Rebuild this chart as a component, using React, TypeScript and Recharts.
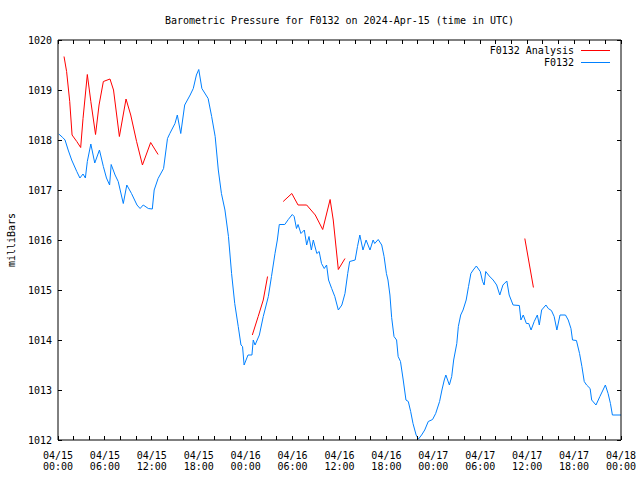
import React from 'react';
import { LineChart, Line, XAxis, YAxis, Legend } from 'recharts';

// hours since 2024-04-15 00:00 UTC
const stationHours = [
  0.1, 0.6, 0.9, 1.3, 1.75, 2.4, 2.8, 3.2, 3.5, 3.75, 4.2, 4.7, 5.3, 5.8, 6.2, 6.6, 6.8, 7.3, 7.7, 8.35,
  8.8, 9.4, 10.1, 10.5, 10.9, 11.55, 12.06, 12.3, 12.8, 13.5, 14.0, 14.3, 14.96, 15.26, 15.7, 16.2, 16.9, 17.3, 17.7, 18.0,
  18.4, 19.2, 19.65, 20.1, 20.5, 20.9, 21.35, 21.8, 22.2, 22.6, 23.05, 23.4, 23.6, 23.8, 24.3, 24.8, 24.97, 25.2, 25.75, 26.25,
  26.9, 27.3, 27.75, 28.05, 28.3, 29.0, 29.45, 29.96, 30.2, 30.5, 30.7, 31.07, 31.5, 31.8, 32.1, 32.4, 32.65, 33.1, 33.4, 33.7,
  34.05, 34.35, 34.6, 35.0, 35.4, 35.85, 36.3, 36.7, 37.05, 37.3, 38.0, 38.3, 38.6, 39.0, 39.4, 39.9, 40.3, 40.5, 40.95, 41.4,
  41.7, 42.0, 42.2, 42.45, 42.67, 42.97, 43.3, 43.5, 43.8, 44.15, 44.5, 44.8, 45.1, 45.4, 45.8, 46.1, 46.5, 46.9, 47.35, 47.9,
  48.3, 48.8, 49.1, 49.4, 49.6, 50.05, 50.35, 50.6, 51.0, 51.2, 51.5, 51.8, 52.2, 52.5, 52.8, 53.1, 53.5, 54.0, 54.3, 54.5,
  54.7, 55.15, 55.65, 56.1, 56.5, 56.9, 57.4, 57.7, 58.2, 59.0, 59.2, 59.5, 59.9, 60.2, 60.5, 60.9, 61.3, 61.55, 61.85, 62.4,
  62.7, 63.1, 63.45, 63.8, 64.2, 64.9, 65.25, 65.6, 65.8, 66.3, 66.7, 67.0, 67.3, 67.6, 68.05, 68.25, 68.8, 69.3, 69.7, 70.0,
  70.35, 70.65, 70.9, 72.0,
];
const stationPressure = [
  1018.12, 1018.05, 1018.0, 1017.8, 1017.6, 1017.37, 1017.24, 1017.32, 1017.24, 1017.57, 1017.92, 1017.54, 1017.8, 1017.47, 1017.24, 1017.1, 1017.51, 1017.3, 1017.17, 1016.73,
  1017.1, 1016.93, 1016.7, 1016.63, 1016.7, 1016.63, 1016.62, 1017.0, 1017.23, 1017.43, 1018.03, 1018.13, 1018.33, 1018.5, 1018.13, 1018.7, 1018.9, 1019.03, 1019.3, 1019.41,
  1019.03, 1018.83, 1018.47, 1018.07, 1017.4, 1016.93, 1016.6, 1016.07, 1015.33, 1014.73, 1014.27, 1013.9, 1013.87, 1013.5, 1013.7, 1013.7, 1014.0, 1013.9, 1014.1, 1014.47,
  1014.87, 1015.27, 1015.73, 1016.0, 1016.31, 1016.31, 1016.41, 1016.51, 1016.47, 1016.23, 1016.31, 1016.13, 1016.2, 1015.9, 1016.07, 1015.8, 1016.0, 1015.73, 1015.77, 1015.53,
  1015.43, 1015.5, 1015.2, 1015.03, 1014.87, 1014.6, 1014.7, 1014.93, 1015.33, 1015.57, 1015.6, 1015.87, 1016.1, 1015.8, 1016.0, 1015.8, 1016.0, 1015.93, 1016.01, 1015.9,
  1015.67, 1015.33, 1015.2, 1014.9, 1014.45, 1014.07, 1014.0, 1013.67, 1013.57, 1013.2, 1012.8, 1012.77, 1012.57, 1012.33, 1012.1, 1012.02, 1012.1, 1012.2, 1012.37, 1012.41,
  1012.53, 1012.77, 1013.0, 1013.2, 1013.3, 1013.1, 1013.27, 1013.6, 1013.93, 1014.27, 1014.5, 1014.6, 1014.8, 1015.07, 1015.33, 1015.4, 1015.48, 1015.37, 1015.17, 1015.1,
  1015.37, 1015.28, 1015.2, 1015.1, 1014.9, 1015.1, 1015.18, 1014.9, 1014.7, 1014.69, 1014.4, 1014.5, 1014.33, 1014.33, 1014.2, 1014.37, 1014.5, 1014.3, 1014.6, 1014.7,
  1014.63, 1014.59, 1014.47, 1014.2, 1014.5, 1014.5, 1014.4, 1014.23, 1014.0, 1013.99, 1013.73, 1013.47, 1013.17, 1013.1, 1013.03, 1012.8, 1012.7, 1012.87, 1013.0, 1013.1,
  1012.93, 1012.73, 1012.5, 1012.5,
];

// analysis values; null marks a break in the line
const analysisHours = [
  0.77, 1.1, 1.5, 1.8, 2.4, 2.9, 3.2, 3.75, 4.2, 4.8, 5.25, 5.8, 6.65, 7.1, 7.85, 8.7, 9.3, 10.05, 10.8, 11.85, 12.8,
  18.0,
  24.85, 25.6, 26.25, 26.8,
  27.8,
  28.8, 29.9, 30.7, 31.8, 32.9, 33.85, 34.8, 35.2, 35.85, 36.7,
  48.0,
  59.7, 60.8,
];
const analysisPressure = [
  1019.67, 1019.37, 1018.77, 1018.1, 1017.97, 1017.85, 1018.43, 1019.31, 1018.77, 1018.11, 1018.7, 1019.17, 1019.22, 1019.0, 1018.07, 1018.82, 1018.5, 1017.97, 1017.5, 1017.95, 1017.71,
  null,
  1014.1, 1014.47, 1014.8, 1015.27,
  null,
  1016.77, 1016.93, 1016.7, 1016.7, 1016.5, 1016.21, 1016.81, 1016.4, 1015.41, 1015.63,
  null,
  1016.03, 1015.05,
];

const xTickHours = [0, 6, 12, 18, 24, 30, 36, 42, 48, 54, 60, 66, 72];
const xTickLabels = [
  ['04/15', '00:00'], ['04/15', '06:00'], ['04/15', '12:00'], ['04/15', '18:00'],
  ['04/16', '00:00'], ['04/16', '06:00'], ['04/16', '12:00'], ['04/16', '18:00'],
  ['04/17', '00:00'], ['04/17', '06:00'], ['04/17', '12:00'], ['04/17', '18:00'],
  ['04/18', '00:00'],
];
const xMinorTicks = [0, 2, 4, 6, 8, 10, 12, 14, 16, 18, 20, 22, 24, 26, 28, 30, 32, 34, 36, 38, 40, 42, 44, 46, 48, 50, 52, 54, 56, 58, 60, 62, 64, 66, 68, 70, 72];
const yTicks = [1012, 1013, 1014, 1015, 1016, 1017, 1018, 1019, 1020];

const stationData = stationHours.map((h, i) => ({ h, p: stationPressure[i] }));
const analysisData = analysisHours.map((h, i) => ({ h, p: analysisPressure[i] }));

const FONT = '"DejaVu Sans Mono", "Liberation Mono", monospace';
const RED = '#ff0000';
const BLUE = '#0080ff';
const TICK = 4;

const BottomTick = ({ x, y, payload }: any) => {
  const idx = xTickHours.indexOf(payload.value);
  return (
    <g>
      <line x1={x} y1={y} x2={x} y2={y - TICK} stroke="#000" shapeRendering="crispEdges" />
      {idx >= 0 && (
        <text x={x} y={y} textAnchor="middle" fontFamily={FONT} fontSize={10} fill="#000">
          <tspan x={x} dy={18.5}>{xTickLabels[idx][0]}</tspan>
          <tspan x={x} dy={11}>{xTickLabels[idx][1]}</tspan>
        </text>
      )}
    </g>
  );
};

const TopTick = ({ x, y }: any) => (
  <line x1={x} y1={y} x2={x} y2={y + TICK} stroke="#000" shapeRendering="crispEdges" />
);

const LeftTick = ({ x, y, payload }: any) => (
  <g>
    <line x1={x} y1={y} x2={x + TICK} y2={y} stroke="#000" shapeRendering="crispEdges" />
    <text x={x - 6} y={y} dy={4} textAnchor="end" fontFamily={FONT} fontSize={10} fill="#000">
      {payload.value}
    </text>
  </g>
);

const RightTick = ({ x, y }: any) => (
  <line x1={x} y1={y} x2={x - TICK} y2={y} stroke="#000" shapeRendering="crispEdges" />
);

const KeyBox = () => (
  <div style={{ fontFamily: FONT, fontSize: 10, color: '#000' }}>
    {[
      { name: 'F0132 Analysis', color: RED },
      { name: 'F0132', color: BLUE },
    ].map((row) => (
      <div key={row.name} style={{ display: 'flex', justifyContent: 'flex-end', alignItems: 'center', height: 12 }}>
        <span style={{ whiteSpace: 'pre' }}>{row.name}</span>
        <span style={{ display: 'inline-block', width: 29, height: 1, marginLeft: 7, background: row.color }} />
      </div>
    ))}
  </div>
);

export default function App() {
  return (
    <div style={{ position: 'absolute', left: 0, top: 0, width: 640, height: 480, background: '#fff' }}>
      <LineChart width={640} height={480} margin={{ top: 20, right: 0, bottom: 0, left: 0 }}>
        <XAxis
          xAxisId="b"
          dataKey="h"
          type="number"
          domain={[0, 72]}
          ticks={xMinorTicks}
          interval={0}
          height={40}
          tickSize={0}
          tickMargin={0}
          tick={<BottomTick />}
          axisLine={{ stroke: '#000' }}
          allowDataOverflow
        />
        <XAxis
          xAxisId="t"
          orientation="top"
          dataKey="h"
          type="number"
          domain={[0, 72]}
          ticks={xMinorTicks}
          interval={0}
          height={20}
          tickSize={0}
          tickMargin={0}
          tick={<TopTick />}
          axisLine={{ stroke: '#000' }}
          allowDataOverflow
        />
        <YAxis
          yAxisId="p"
          type="number"
          domain={[1012, 1020]}
          ticks={yTicks}
          interval={0}
          width={58}
          tickSize={0}
          tickMargin={0}
          tick={<LeftTick />}
          axisLine={{ stroke: '#000' }}
          allowDataOverflow
        />
        <YAxis
          yAxisId="r"
          orientation="right"
          type="number"
          domain={[1012, 1020]}
          ticks={yTicks}
          interval={0}
          width={19}
          tickSize={0}
          tickMargin={0}
          tick={<RightTick />}
          axisLine={{ stroke: '#000' }}
          allowDataOverflow
        />
        <Legend
          layout="vertical"
          verticalAlign="middle"
          align="center"
          content={<KeyBox />}
          wrapperStyle={{ position: 'absolute', left: 460, top: 44, width: 150, right: 'auto', bottom: 'auto' }}
        />
        <Line
          xAxisId="b"
          yAxisId="p"
          data={stationData}
          dataKey="p"
          name="F0132"
          type="linear"
          stroke={BLUE}
          strokeWidth={1}
          dot={false}
          activeDot={false}
          isAnimationActive={false}
        />
        <Line
          xAxisId="b"
          yAxisId="p"
          data={analysisData}
          dataKey="p"
          name="F0132 Analysis"
          type="linear"
          stroke={RED}
          strokeWidth={1}
          dot={false}
          activeDot={false}
          connectNulls={false}
          isAnimationActive={false}
        />
      </LineChart>
      <svg width={640} height={480} style={{ position: 'absolute', left: 0, top: 0, pointerEvents: 'none' }}>
        <text x={339.5} y={24} textAnchor="middle" fontFamily={FONT} fontSize={10} fill="#000">
          Barometric Pressure for F0132 on 2024-Apr-15 (time in UTC)
        </text>
        <text x={15} y={240} textAnchor="middle" transform="rotate(-90 15 240)" fontFamily={FONT} fontSize={10} fill="#000">
          milliBars
        </text>
      </svg>
    </div>
  );
}
